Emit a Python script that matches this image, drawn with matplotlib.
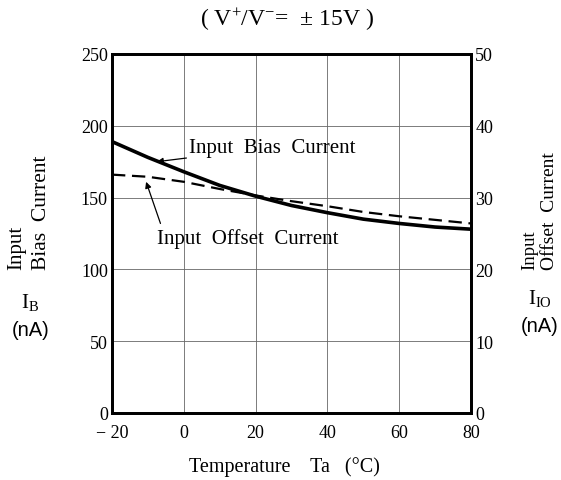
import matplotlib
matplotlib.use("Agg")
import matplotlib.pyplot as plt

plt.rcParams["mathtext.fontset"] = "custom"
plt.rcParams["mathtext.rm"] = "Liberation Serif"
plt.rcParams["mathtext.it"] = "Liberation Serif:italic"

# Données
temp = [-20, -10, 0, 10, 20, 30, 40, 50, 60, 70, 80]
bias_na = [189, 178, 168, 158.5, 151, 144.5, 139.5, 135, 132, 129.5, 128]
offset_na = [33.2, 32.9, 32.2, 31.2, 30.3, 29.5, 28.8, 28.0, 27.4, 26.9, 26.4]

x_ticks = [-20, 0, 20, 40, 60, 80]
x_labels = ["\u2212 20", "0", "20", "40", "60", "80"]
left_ticks = [0, 50, 100, 150, 200, 250]
right_ticks = [0, 10, 20, 30, 40, 50]

SERIF = "Liberation Serif"
SANS = "Liberation Sans"

fig = plt.figure(figsize=(5.61, 4.81), dpi=100)
ax = fig.add_axes([112 / 561, 1 - 414 / 481, 359 / 561, 359 / 481])
ax2 = ax.twinx()

ax.plot(temp, bias_na, color="black", lw=2.6, solid_capstyle="butt")
ax2.plot(temp, offset_na, color="black", lw=1.6, ls=(0, (6, 3)))

ax.set_xlim(-20, 80)
ax.set_ylim(0, 250)
ax2.set_ylim(0, 50)

ax.set_xticks(x_ticks)
ax.set_xticklabels(x_labels, fontfamily=SERIF, fontsize=13)
ax.set_yticks(left_ticks)
ax.set_yticklabels([str(v) for v in left_ticks], fontfamily=SERIF, fontsize=13)
ax2.set_yticks(right_ticks)
ax2.set_yticklabels([str(v) for v in right_ticks], fontfamily=SERIF, fontsize=13)

ax.tick_params(axis="x", length=0, pad=8)
ax.tick_params(axis="y", length=0, pad=3)
ax2.tick_params(length=0, pad=3)
ax.grid(True, color="#666666", lw=0.6)

for a in (ax, ax2):
    for s in a.spines.values():
        s.set_linewidth(2.0)

# Annotations
ax.annotate("Input  Bias  Current", xy=(-7.5, 175), xytext=(1.5, 185),
            fontfamily=SERIF, fontsize=15, va="center", ha="left",
            arrowprops=dict(arrowstyle="-|>", color="black", lw=0.9,
                            mutation_scale=9, shrinkA=0, shrinkB=0))
ax.annotate("", xy=(-10.5, 161), xytext=(-6.5, 132),
            arrowprops=dict(arrowstyle="-|>", color="black", lw=0.9,
                            mutation_scale=9, shrinkA=0, shrinkB=0))
ax.text(-7.5, 122, "Input  Offset  Current", fontfamily=SERIF, fontsize=15,
        va="center", ha="left")

# Titre et libellés
fig.text(287 / 561, 1 - 20 / 481, "( V$^{+}$/V$^{-}$=  \u00b1 15V )",
         fontfamily=SERIF, fontsize=17, ha="center", va="center")
fig.text(284 / 561, 1 - 467 / 481, "Temperature    Ta   (\u00b0C)",
         fontfamily=SERIF, fontsize=14.5, ha="center", va="center")

fig.text(17 / 561, 1 - 270 / 481, "Input", rotation=90, fontfamily=SERIF,
         fontsize=15, ha="center", va="bottom")
fig.text(42 / 561, 1 - 270 / 481, "Bias  Current", rotation=90, fontfamily=SERIF,
         fontsize=15.5, ha="center", va="bottom")
fig.text(30 / 561, 1 - 303 / 481, "I$_{\\rm B}$", fontfamily=SERIF,
         fontsize=15, ha="center", va="center")
fig.text(31 / 561, 1 - 331 / 481, "(nA)", fontfamily=SANS,
         fontsize=14.5, ha="center", va="center")

fig.text(530 / 561, 1 - 270 / 481, "Input", rotation=90, fontfamily=SERIF,
         fontsize=13.5, ha="center", va="bottom")
fig.text(549 / 561, 1 - 270 / 481, "Offset  Current", rotation=90, fontfamily=SERIF,
         fontsize=14, ha="center", va="bottom")
fig.text(540 / 561, 1 - 299 / 481, "I$_{\\rm IO}$", fontfamily=SERIF,
         fontsize=15, ha="center", va="center")
fig.text(540 / 561, 1 - 326 / 481, "(nA)", fontfamily=SANS,
         fontsize=14.5, ha="center", va="center")

fig.savefig("out.png", dpi=100)
